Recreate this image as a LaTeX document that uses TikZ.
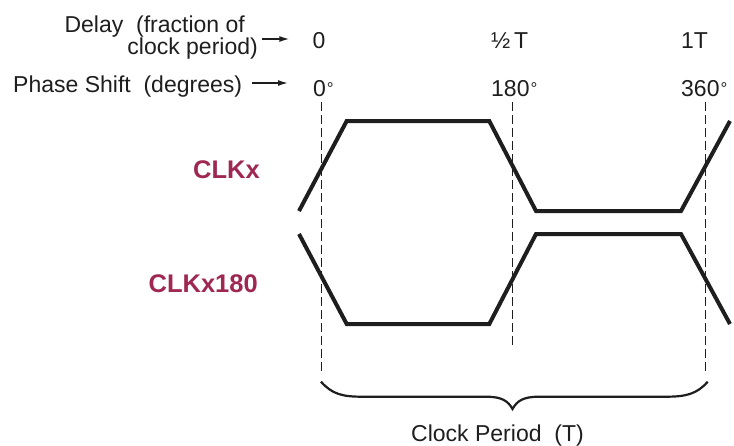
\documentclass[tikz,border=0pt]{standalone}
\usepackage{fontspec}
\setmainfont{Liberation Sans}
\usetikzlibrary{arrows.meta}
\definecolor{clkred}{RGB}{158,40,82}
\definecolor{ink}{RGB}{30,30,30}
\newcommand{\degmark}{\kern1pt\raisebox{2pt}{\fontsize{17}{17}\selectfont °}}
\begin{document}
\begin{tikzpicture}[x=1pt,y=-1pt,
  lbl/.style={inner sep=0pt, text=ink, font=\fontsize{23}{26}\selectfont},
  sig/.style={line width=4pt, draw=ink, line join=miter},
  sname/.style={inner sep=0pt, text=clkred, font=\fontsize{25.5}{28}\selectfont\bfseries},
  guide/.style={line width=1pt, draw=ink, dash pattern=on 9pt off 4pt},
  arr/.style={line width=1.5pt, draw=ink, -{Latex[length=10pt,width=6pt]}},
  bracestyle/.style={line width=2.2pt, draw=ink}]
\useasboundingbox (0,0) rectangle (734,445);
% header labels
\node[lbl, anchor=base east] (delayA) at (245,32) {Delay\ \ (fraction of};
\node[lbl, anchor=base east] (delayB) at (258,54) {clock period)};
\node[lbl, anchor=base] (d0) at (319,48) {0};
\node[lbl, anchor=base west] (dhalf) at (491,48) {½\,T};
\node[lbl, anchor=base west] (d1) at (681,48) {1T};
\node[lbl, anchor=base west] (phase) at (13,92) {Phase Shift\ \ (degrees)};
\node[lbl, anchor=base west] (p0) at (313,96) {0\degmark};
\node[lbl, anchor=base west] (p180) at (491,96) {180\degmark};
\node[lbl, anchor=base west] (p360) at (681,96) {360\degmark};
% arrows
\draw[arr, shorten <=4pt, shorten >=23pt] (delayB.east |- 0,39) -- (d0.west |- 0,39);
\draw[arr, shorten <=10pt, shorten >=25pt] (phase.east |- 0,83) -- (p0.west |- 0,83);
% signal names
\node[sname, anchor=base east] (clkx) at (260,178) {CLKx};
\node[sname, anchor=base east] (clkx180) at (258,292) {CLKx180};
% guides
\draw[guide] (321,102) -- (321,373);
\draw[guide] (512.7,102) -- (512.7,345);
\draw[guide] (705,102) -- (705,373);
% waveforms
\draw[sig] (299,211) -- (346.7,121) -- (489.3,121) -- (536,211) -- (681,211) -- (730,121);
\draw[sig] (299,234) -- (346.7,324) -- (489.3,324) -- (536,234) -- (681,234) -- (730,324);
% brace
\draw[bracestyle] (321,381.7) .. controls (332,394) and (342,396.7) .. (362,396.7)
  -- (486,396.7) .. controls (502,396.7) and (508,401) .. (512.5,409)
  .. controls (517,401) and (523,396.7) .. (539,396.7)
  -- (666,396.7) .. controls (686,396.7) and (697,394) .. (707.7,381.7);
\node[lbl, anchor=base] (period) at (497.5,441) {Clock Period\ \ (T)};
\end{tikzpicture}
\end{document}
